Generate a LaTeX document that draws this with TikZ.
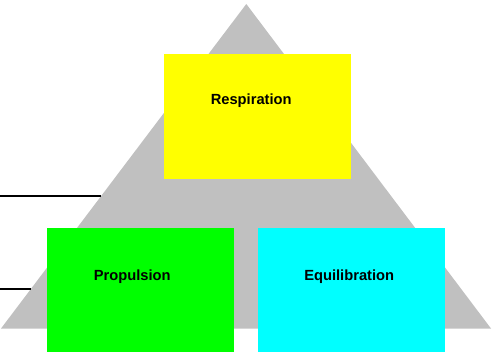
\documentclass[tikz,border=0pt]{standalone}
\usepackage{fontspec}
\setmainfont{Liberation Sans}
\begin{document}
\begin{tikzpicture}[x=1pt,y=-1pt,
  box/.style={inner sep=0pt, minimum width=187pt, minimum height=124.5pt, draw=none},
  lbl/.style={anchor=base, font=\fontsize{14.7}{17}\selectfont\bfseries, inner sep=0pt},
  rule/.style={draw=black, line width=1.5pt}]
\useasboundingbox (0,0) rectangle (492,352);
\fill[fill={rgb,255:red,192;green,192;blue,192}] (246.3,4) -- (491,328.5) -- (1,328.5) -- cycle;
\coordinate (a1) at (0,196);
\coordinate (b1) at (101,196);
\coordinate (a2) at (0,289);
\coordinate (b2) at (31,289);
\draw[rule] (a1) -- (b1);
\draw[rule] (a2) -- (b2);
\node[box, fill={rgb,255:red,255;green,255;blue,0}] (resp) at (257.5,116.5) {};
\node[box, fill={rgb,255:red,0;green,255;blue,0}] (prop) at (140.5,290.2) {};
\node[box, fill={rgb,255:red,0;green,255;blue,255}] (equi) at (351.5,290.2) {};
\node[lbl] (tresp) at (251.2,104.3) {Respiration};
\node[lbl] (tprop) at (132.2,280) {Propulsion};
\node[lbl] (tequi) at (349.2,280) {Equilibration};
\end{tikzpicture}
\end{document}
